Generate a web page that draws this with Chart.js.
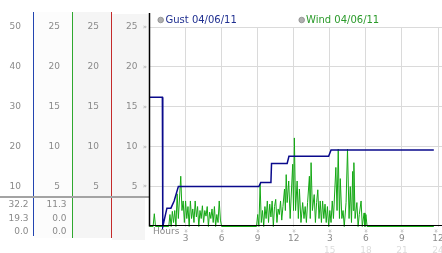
<!DOCTYPE html>
<html><head><meta charset="utf-8">
<script src="https://cdn.jsdelivr.net/npm/chart.js@4.4.1/dist/chart.umd.min.js"></script>
<style>html,body{margin:0;padding:0;background:#fff;overflow:hidden}#wrap{width:442px;height:253px;position:relative}</style>
</head><body><div id="wrap"><canvas id="c" width="442" height="253"></canvas></div>
<script>
// ---- data (hours since midnight, speed in plot units) ----
const gustHours  = [0, 1.07, 1.09, 1.12, 1.45, 1.78, 2.05, 2.4, 9.1, 9.25, 10.1, 10.15, 11.45, 11.6, 14.9, 15.1, 23.65];
const gustSpeeds = [16.2, 16.2, 8.0, 0, 2.3, 2.3, 3.2, 5.0, 5.0, 5.5, 5.5, 7.9, 7.9, 8.8, 8.8, 9.6, 9.6];

const windHours = [0, 0.3, 0.4, 0.5, 1.6, 1.7, 1.8, 1.9, 2.0, 2.1, 2.2, 2.3, 2.4, 2.6, 2.7, 2.8, 2.9, 3.0, 3.1, 3.2,
  3.3, 3.4, 3.5, 3.6, 3.7, 3.8, 3.9, 4.0, 4.1, 4.2, 4.3, 4.4, 4.5, 4.6, 4.7, 4.8, 4.9, 5.0, 5.1, 5.2,
  5.3, 5.4, 5.5, 5.6, 5.7, 5.8, 5.9, 6.0,
  8.9, 9.0, 9.1, 9.2, 9.3, 9.4, 9.5, 9.6, 9.7, 9.8, 9.9, 10.0, 10.1, 10.2, 10.3, 10.4, 10.5, 10.6, 10.7, 10.8,
  10.9, 11.0, 11.1, 11.23, 11.3, 11.37, 11.45, 11.58, 11.7, 11.91, 11.98, 12.05, 12.15, 12.28, 12.38, 12.47,
  12.6, 12.74, 12.85, 12.95, 13.05, 13.15, 13.3, 13.37, 13.44, 13.55, 13.7, 13.8, 13.9, 14.0, 14.1, 14.2,
  14.3, 14.4, 14.5, 14.6, 14.7, 14.8, 14.9, 15.0, 15.1, 15.2, 15.3, 15.5, 15.6, 15.7, 15.8, 15.87, 16.0,
  16.1, 16.2, 16.35, 16.47, 16.6, 16.7, 16.8, 16.9, 16.95, 17.0, 17.1, 17.25, 17.35, 17.45, 17.6, 17.7,
  17.85, 17.92, 18.0, 18.1, 23.65];
const windSpeeds = [0, 0, 1.6, 0, 0, 1.5, 0, 1.9, 0.5, 2.0, 0, 4.1, 1.0, 6.3, 2.0, 3.2, 0.5, 3.2, 1.0, 2.5,
  0, 3.2, 1.0, 2.2, 0.5, 3.2, 1.2, 2.5, 0, 2.0, 1.0, 2.6, 0.5, 2.0, 1.3, 2.5, 0, 1.8, 1.0, 2.2,
  0.5, 2.5, 0, 1.5, 0.5, 3.2, 0.8, 0,
  0, 1.5, 0, 5.3, 0.5, 2.0, 0, 2.5, 1.0, 3.2, 0.5, 2.8, 1.2, 3.2, 0, 2.5, 3.4, 0.5, 2.2, 1.5,
  3.2, 0.8, 2.5, 4.7, 2.0, 6.5, 3.0, 5.7, 1.0, 7.8, 2.0, 11.1, 2.0, 5.7, 1.0, 4.7,
  0.5, 3.0, 1.0, 2.5, 0.5, 3.0, 6.3, 1.0, 8.0, 2.0, 4.0, 0.5, 3.0, 4.6, 1.0, 3.2,
  0.5, 3.2, 1.0, 2.8, 0.5, 2.5, 0, 2.0, 0.5, 3.2, 1.0, 7.4, 2.0, 9.7, 1.0, 6.0, 1.0,
  2.0, 0, 3.0, 9.7, 1.0, 5.0, 0.5, 6.9, 2.0, 8.0, 1.0, 3.0, 0, 1.5, 3.2, 0,
  1.7, 0, 1.5, 0, 0];

const seriesNames = ['Gust 04/06/11', 'Wind 04/06/11'];
const yTickValues = [5, 10, 15, 20, 25];
const col1Labels = ['10', '20', '30', '40', '50'];
const col2Labels = ['5', '10', '15', '20', '25'];
const col3Labels = ['5', '10', '15', '20', '25'];
const col4Labels = ['5', '10', '15', '20', '25'];
const xTickValues = [3, 6, 9, 12, 15, 18, 21, 24];
const xTickLabels = ['3', '6', '9', '12', '3', '6', '9', '12'];
const x2TickValues = [15, 18, 21, 24];
const x2TickLabels = ['15', '18', '21', '24'];
const gustStats = ['32.2', '19.3', '0.0'];
const windStats = ['11.3', '0.0', '0.0'];

// ---- chart ----
const FONT = 'DejaVu Sans';
const tickFont = {family: FONT, size: 9};
const noPad = s => { s.paddingLeft = 0; s.paddingRight = 0; s.paddingTop = 0; s.paddingBottom = 0; };

function leftAxis(labels, width, weight, withGrid) {
  return {
    type: 'linear', position: 'left', min: 0, max: 25, weight: weight,
    afterBuildTicks: s => { s.ticks = yTickValues.map(v => ({value: v})); },
    afterFit: s => { s.width = width; noPad(s); },
    grid: {display: withGrid, color: '#dadada', drawTicks: false, lineWidth: 1},
    border: {display: false},
    ticks: {font: tickFont, color: '#8a8a8a', padding: 12, callback: (v, i) => labels[i]}
  };
}

const decor = {
  id: 'decor',
  beforeDraw(chart) {
    const ctx = chart.ctx;
    ctx.save();
    ctx.fillStyle = '#fcfcfc';
    ctx.fillRect(34, 12, 38, 226);
    ctx.fillStyle = '#f5f5f5';
    ctx.fillRect(73, 12, 38, 226);
    ctx.fillRect(112, 14, 37, 183);
    ctx.fillRect(112, 197, 33, 43);
    ctx.restore();
  },
  afterDraw(chart) {
    const ctx = chart.ctx, xs = chart.scales.x, ys = chart.scales.y, ca = chart.chartArea;
    ctx.save();
    // column separators
    const vline = (x, y0, y1, c) => { ctx.strokeStyle = c; ctx.lineWidth = 1; ctx.beginPath(); ctx.moveTo(x, y0); ctx.lineTo(x, y1); ctx.stroke(); };
    vline(33.5, 12, 236, '#2244b0');
    vline(72.5, 12, 238, '#2fa82f');
    vline(111.5, 12, 238, '#c42a2a');
    // gray divider
    ctx.fillStyle = '#a3a3a3';
    ctx.fillRect(0, 196, 149, 2);
    // plot axes
    ctx.strokeStyle = '#000'; ctx.lineWidth = 1.5;
    ctx.beginPath(); ctx.moveTo(149.5, 13); ctx.lineTo(149.5, ca.bottom); ctx.stroke();
    ctx.lineWidth = 1;
    ctx.beginPath(); ctx.moveTo(149, 225.5); ctx.lineTo(442, 225.5); ctx.stroke();
    // stats
    ctx.font = '9px ' + FONT; ctx.fillStyle = '#8a8a8a'; ctx.textAlign = 'right'; ctx.textBaseline = 'middle';
    gustStats.forEach((t, i) => ctx.fillText(t, 28.5, 205 + i * 13.5));
    windStats.forEach((t, i) => ctx.fillText(t, 66.5, 205 + i * 13.5));
    // y tick markers
    ctx.font = '7px ' + FONT; ctx.fillStyle = '#aaa'; ctx.textAlign = 'center';
    yTickValues.forEach(v => ctx.fillText('\u00bb', 145, ys.getPixelForValue(v)));
    // x tick markers
    xTickValues.forEach(v => {
      const px = Math.min(xs.getPixelForValue(v), 436);
      ctx.save(); ctx.translate(px, 231); ctx.rotate(Math.PI / 2);
      ctx.fillText('\u00bb', 0, 0); ctx.restore();
    });
    // Hours label
    ctx.font = '9px ' + FONT; ctx.fillStyle = '#8a8a8a'; ctx.textAlign = 'left';
    ctx.fillText('Hours', 153, 231.5);
    // legend
    const leg = [[160.7, 165.5, seriesNames[0], '#1f2f90'], [301.7, 306, seriesNames[1], '#2a9a2a']];
    ctx.font = '10px ' + FONT;
    leg.forEach(([bx, tx, t, c]) => {
      ctx.beginPath(); ctx.arc(bx, 20, 2.8, 0, Math.PI * 2);
      ctx.fillStyle = '#b0b0b0'; ctx.fill(); ctx.strokeStyle = '#8a8a8a'; ctx.lineWidth = 0.8; ctx.stroke();
      ctx.fillStyle = c; ctx.textAlign = 'left'; ctx.textBaseline = 'middle';
      ctx.fillText(t, tx, 20.5);
    });
    ctx.restore();
  }
};

new Chart(document.getElementById('c'), {
  type: 'line',
  data: {
    datasets: [
      {label: seriesNames[0], data: gustHours.map((h, i) => ({x: h, y: gustSpeeds[i]})),
       borderColor: '#0a0a8c', borderWidth: 1.5, pointRadius: 0, tension: 0, clip: 3, order: 0},
      {label: seriesNames[1], data: windHours.map((h, i) => ({x: h, y: windSpeeds[i]})),
       borderColor: '#14a814', borderWidth: 1, pointRadius: 0, tension: 0, clip: 3, order: 1}
    ]
  },
  options: {
    responsive: false, animation: false, devicePixelRatio: 1,
    layout: {padding: {top: 27, left: 0, right: 0, bottom: 0}},
    plugins: {legend: {display: false}, tooltip: {enabled: false}},
    scales: {
      x: {
        type: 'linear', position: 'bottom', min: 0, max: 24.33, weight: 0,
        afterBuildTicks: s => { s.ticks = xTickValues.map(v => ({value: v})); },
        afterFit: s => { s.height = 16.5; noPad(s); },
        grid: {color: '#dadada', drawTicks: false},
        border: {display: false},
        ticks: {font: tickFont, color: '#8a8a8a', padding: 7, maxRotation: 0, autoSkip: false,
                callback: (v, i) => xTickLabels[i]}
      },
      x2: {
        type: 'linear', position: 'bottom', min: 0, max: 24.33, weight: 1,
        afterBuildTicks: s => { s.ticks = x2TickValues.map(v => ({value: v})); },
        afterFit: s => { s.height = 10; noPad(s); },
        grid: {display: false, drawTicks: false},
        border: {display: false},
        ticks: {font: tickFont, color: '#dcdcdc', padding: 2, maxRotation: 0, autoSkip: false,
                callback: (v, i) => x2TickLabels[i]}
      },
      y: leftAxis(col4Labels, 38.5, 0, true),
      yc3: leftAxis(col3Labels, 39, 1, false),
      yc2: leftAxis(col2Labels, 39, 2, false),
      yc1: leftAxis(col1Labels, 33, 3, false)
    }
  },
  plugins: [decor]
});
</script>
</body></html>
